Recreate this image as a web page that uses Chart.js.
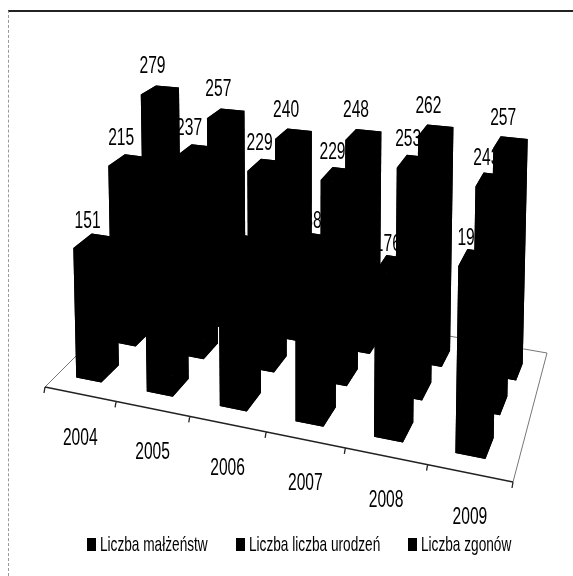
<!DOCTYPE html>
<html>
<head>
<meta charset="utf-8">
<style>
  body { margin: 0; background: #fff; }
  #frame { position: absolute; left: 8px; top: 10px; width: 565px; height: 566px; box-sizing: border-box;
           border-top: 2px solid #222; border-left: 1px dashed #999; }
  #c { position: absolute; left: 0; top: 0; }
</style>
<script src="https://cdn.jsdelivr.net/npm/chart.js@4"></script>
</head>
<body>
<div id="frame"></div>
<canvas id="c" width="573" height="576"></canvas>
<script>
var years = ['2004', '2005', '2006', '2007', '2008', '2009'];
var malzenstwa = [151, 170, 175, 188, 176, 195];
var urodzenia = [215, 237, 229, 229, 253, 243];
var zgony = [279, 257, 240, 248, 262, 257];

var textFont = '"Liberation Sans", sans-serif';

// floor of the 3d box, as it sits in the picture
var floor = { fl: [45, 387], fr: [513, 482], br: [547, 353], bl: [148, 284] };
var rowFront = [0.11, 0.43, 0.72];
var rowShift = [0, -0.005, 0];
var rowDepth = 0.15;

function makeProjection(q) {
  var dx1 = q.fr[0] - q.br[0], dx2 = q.bl[0] - q.br[0], sx = q.fl[0] - q.fr[0] + q.br[0] - q.bl[0];
  var dy1 = q.fr[1] - q.br[1], dy2 = q.bl[1] - q.br[1], sy = q.fl[1] - q.fr[1] + q.br[1] - q.bl[1];
  var den = dx1 * dy2 - dx2 * dy1;
  var g = (sx * dy2 - dx2 * sy) / den, h = (dx1 * sy - sx * dy1) / den;
  var a = q.fr[0] - q.fl[0] + g * q.fr[0], b = q.bl[0] - q.fl[0] + h * q.bl[0];
  var d = q.fr[1] - q.fl[1] + g * q.fr[1], e = q.bl[1] - q.fl[1] + h * q.bl[1];
  return function (u, v) {
    var w = g * u + h * v + 1;
    return [(a * u + b * v + q.fl[0]) / w, (d * u + e * v + q.fl[1]) / w];
  };
}
var onFloor = makeProjection(floor);

// floor point lifted by a height, verticals spread a little away from the middle
function lift(u, v, frac) {
  var p = onFloor(u - 0.012 + 0.022 * v, v);
  var px = frac * 300 * (0.865 + 0.12 * u - 0.12 * v);
  return [p[0] + (p[0] - 300) * px * 0.0001, p[1] - px];
}

class Bar3dController extends Chart.BarController {
  draw() {
    var meta = this._cachedMeta, ctx = this.chart.ctx, area = this.chart.chartArea;
    var color = this.getDataset().backgroundColor;
    var row = meta.index;
    meta.data.forEach(function (bar, i) {
      var u0 = (bar.x - bar.width / 2 - area.left) / area.width + rowShift[row];
      var u1 = (bar.x + bar.width / 2 - area.left) / area.width + rowShift[row];
      var v0 = rowFront[row], v1 = v0 + rowDepth;
      var frac = (bar.base - bar.y) / area.height;
      var corners = [[u0, v0], [u1, v0], [u1, v1], [u0, v1]];
      var low = corners.map(function (c) { return lift(c[0], c[1], 0); });
      var top = corners.map(function (c) { return lift(c[0], c[1], frac); });
      var faces = [low, top];
      for (var k = 0; k < 4; k++) {
        var n = (k + 1) % 4;
        faces.push([low[k], low[n], top[n], top[k]]);
      }
      ctx.save();
      ctx.fillStyle = color;
      faces.forEach(function (f) {
        ctx.beginPath();
        f.forEach(function (p, j) { if (j) ctx.lineTo(p[0], p[1]); else ctx.moveTo(p[0], p[1]); });
        ctx.closePath();
        ctx.fill();
      });
      var mx = (top[0][0] + top[1][0] + top[2][0] + top[3][0]) / 4;
      var my = (top[0][1] + top[1][1] + top[2][1] + top[3][1]) / 4;
      narrowText(ctx, String(meta._parsed[i].y), mx - 7.5, my - 21 - row * 2, 'center', 24);
      ctx.restore();
    });
  }
}
Bar3dController.id = 'bar3d';
Bar3dController.defaults = Chart.BarController.defaults;
Bar3dController.overrides = Chart.BarController.overrides;
Chart.register(Bar3dController);

function narrowText(ctx, s, x, y, align, size) {
  ctx.save();
  ctx.translate(x, y);
  ctx.scale(0.65, 1);
  ctx.font = size + 'px ' + textFont;
  ctx.fillStyle = '#000';
  ctx.textAlign = align;
  ctx.textBaseline = 'middle';
  ctx.fillText(s, 0, 0);
  ctx.restore();
}

var legendX = [87, 236, 408];
var legendY = 545;

var floorPlugin = {
  id: 'floorPlugin',
  beforeDatasetsDraw: function (chart) {
    var ctx = chart.ctx, q = floor;
    ctx.save();
    ctx.strokeStyle = '#777';
    ctx.lineWidth = 1;
    ctx.beginPath();
    ctx.moveTo(q.fl[0], q.fl[1]);
    ctx.lineTo(q.bl[0], q.bl[1]);
    ctx.lineTo(q.br[0], q.br[1]);
    ctx.lineTo(q.fr[0], q.fr[1]);
    ctx.stroke();
    ctx.strokeStyle = '#222';
    ctx.lineWidth = 1.3;
    ctx.beginPath();
    ctx.moveTo(q.fl[0], q.fl[1]);
    ctx.lineTo(q.fr[0], q.fr[1]);
    for (var i = 0; i <= years.length; i++) {
      var p = onFloor(i / years.length, 0);
      ctx.moveTo(p[0], p[1]);
      ctx.lineTo(p[0] - 1, p[1] + 6);
    }
    ctx.stroke();
    ctx.restore();
  },
  afterDatasetsDraw: function (chart) {
    var scale = chart.scales.x, area = chart.chartArea, ctx = chart.ctx;
    years.forEach(function (y, i) {
      var p = onFloor((scale.getPixelForValue(i) - area.left) / area.width, 0);
      narrowText(ctx, scale.getLabelForValue(i), p[0], p[1] + 44, 'center', 24);
    });
    // the picture's legend is much narrower than any installed font
    chart.data.datasets.forEach(function (ds, i) {
      ctx.fillStyle = ds.backgroundColor;
      ctx.fillRect(legendX[i], legendY - 7, 9, 13);
      narrowText(ctx, ds.label, legendX[i] + 13, legendY, 'left', 21);
    });
  }
};

function series(label, values, order) {
  return { type: 'bar3d', label: label, data: values, backgroundColor: '#000', borderColor: '#000',
           order: order, grouped: false, categoryPercentage: 0.36, barPercentage: 1, clip: false };
}

new Chart(document.getElementById('c'), {
  type: 'bar3d',
  data: {
    labels: years,
    datasets: [
      series('Liczba małżeństw', malzenstwa, 3),
      series('Liczba liczba urodzeń', urodzenia, 2),
      series('Liczba zgonów', zgony, 1)
    ]
  },
  plugins: [floorPlugin],
  options: {
    responsive: false,
    animation: false,
    devicePixelRatio: 1,
    scales: {
      x: { type: 'category', display: false, offset: true },
      y: { type: 'linear', display: false, min: 0, max: 300 }
    },
    plugins: {
      tooltip: { enabled: false },
      legend: { display: false }
    }
  }
});
</script>
</body>
</html>
